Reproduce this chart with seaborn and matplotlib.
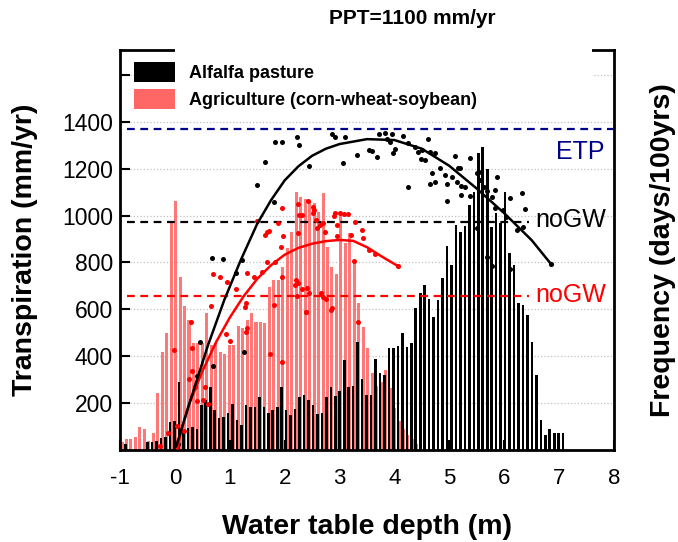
import numpy as np
import pandas as pd
import matplotlib
matplotlib.use("Agg")
import matplotlib.pyplot as plt
from matplotlib.patches import Patch, Rectangle
import seaborn as sns

# ---------------- data ----------------
bin_step = 0.0814
alfalfa_start = -0.903
agri_start = -0.964

alfalfa_freq = [26, 0, 0, 0, 0, 36, 36, 40, 50, 57, 121, 125, 291, 85, 92, 100, 90, 190, 213, 270,
                171, 135, 140, 157, 196, 128, 107, 192, 183, 185, 228, 185, 157, 171, 182, 268, 171, 149, 176, 228,
                233, 213, 192, 154, 159, 226, 270, 230, 252, 384, 268, 274, 462, 302, 235, 235, 388, 328, 320, 435,
                435, 442, 497, 441, 455, 605, 670, 704, 643, 569, 640, 735, 871, 790, 960, 930, 955, 1046, 1102, 1266,
                1292, 1198, 953, 1010, 967, 1102, 839, 789, 629, 619, 576, 462, 320, 128, 64, 88, 71, 71, 71]

agri_freq = [35, 45, 45, 57, 97, 88, 40, 74, 245, 420, 500, 974, 1060, 740, 615, 555, 458, 455, 455, 583,
             448, 455, 420, 410, 448, 450, 530, 519, 555, 583, 548, 548, 541, 697, 725, 725, 782, 860, 930, 1100,
             1080, 1070, 1060, 1053, 1017, 1095, 865, 780, 751, 1010, 882, 925, 797, 629, 526, 434, 327, 273, 290, 341,
             265, 180, 125, 90, 65, 45, 25]

alfalfa_pts_x = [0.05, 0.40, 0.46, 0.70, 1.26, 0.68, 0.87, 1.11, 1.23, 1.49, 1.81, 1.65, 1.82, 1.96, 2.22, 2.26,
                 2.45, 2.87, 2.92, 3.10, 3.07, 3.31, 3.54, 3.60, 3.68, 3.71, 3.83, 3.87, 3.95, 3.91, 4.01, 3.97,
                 4.16, 4.25, 4.37, 4.43, 4.51, 4.62, 4.65, 4.49, 4.55, 4.74, 4.83, 5.10, 5.16, 5.38, 4.24, 4.68,
                 4.65, 4.74, 4.92, 4.95, 5.04, 5.14, 5.19, 5.21, 5.28, 4.95, 5.21, 5.38, 5.50, 5.54, 5.56, 5.63,
                 5.68, 5.77, 5.83, 5.86, 5.83, 5.98, 6.10, 6.04, 6.23, 6.33, 6.38, 6.35, 5.50, 5.68, 5.77, 6.10]
alfalfa_pts_y = [25, 315, 462, 358, 419, 820, 813, 753, 810, 1130, 1059, 1230, 1312, 1312, 1334, 1301,
                 1211, 1348, 1336, 1336, 1225, 1258, 1279, 1277, 1251, 1348, 1351, 1325, 1348, 1315, 1282, 1265,
                 1339, 1311, 1294, 1272, 1279, 1326, 1272, 1240, 1237, 1265, 1201, 1254, 1201, 1244, 1123, 1180,
                 1134, 1144, 1173, 1134, 1166, 1144, 1201, 1126, 1123, 1063, 1087, 1083, 1180, 1187, 1151, 1123,
                 1106, 1080, 1109, 1163, 1031, 1024, 1073, 995, 938, 1095, 1027, 950, 945, 824, 786, 770]

agri_pts_x = [-0.28, -0.12, 0.04, 0.17, -0.02, 0.25, 0.29, 0.32, 0.31, 0.37, 0.55, 0.41, 0.52, 0.61, 0.66, 0.70,
              0.83, 0.95, 1.11, 1.30, 1.28, 0.93, 1.00, 1.31, 1.29, 1.31, 1.44, 1.59, 1.67, 1.83, 1.49, 1.64,
              1.68, 1.71, 1.87, 1.96, 1.97, 1.93, 1.95, 1.81, 1.74, 1.95, 2.19, 2.21, 2.25, 2.22, 2.31, 2.40,
              2.45, 2.39, 2.66, 2.69, 2.76, 2.87, 2.84, 2.25, 2.27, 2.31, 2.42, 2.52, 2.53, 2.51, 2.57, 2.59,
              2.69, 2.73, 2.25, 2.64, 2.90, 2.92, 3.00, 3.09, 3.15, 2.96, 2.96, 3.20, 3.29, 3.40, 3.43, 3.54,
              3.64, 3.27, 3.33, 2.38]
agri_pts_y = [18, 71, 102, 81, 426, 302, 544, 433, 338, 267, 270, 210, 213, 196, 615, 750,
              739, 718, 686, 625, 611, 494, 466, 519, 505, 756, 739, 760, 803, 803, 978, 917,
              931, 935, 967, 1031, 913, 867, 739, 619, 409, 376, 704, 725, 711, 657, 685, 689,
              668, 590, 671, 654, 645, 604, 597, 1049, 1002, 1002, 1063, 1038, 1024, 1009, 981, 945,
              967, 931, 924, 960, 998, 1009, 1009, 1005, 1006, 960, 914, 917, 974, 938, 903, 853,
              836, 807, 544, 587]

alfalfa_fit_x = [0.02, 0.3, 0.6, 0.9, 1.2, 1.5, 1.75, 2.0, 2.25, 2.5, 2.75, 3.0, 3.5, 4.0, 4.5, 5.0, 5.5,
                 6.0, 6.5, 6.85]
alfalfa_fit_y = [14, 225, 445, 640, 810, 965, 1065, 1150, 1210, 1255, 1285, 1305, 1326, 1322, 1285, 1212, 1115,
                 1010, 895, 794]
agri_fit_x = [0.05, 0.1, 0.25, 0.5, 0.75, 1.0, 1.25, 1.5, 1.75, 2.0, 2.25, 2.5, 2.75, 3.0, 3.25, 3.5, 3.75, 4.06]
agri_fit_y = [5, 70, 190, 335, 460, 565, 655, 730, 788, 833, 862, 880, 891, 896, 892, 865, 828, 785]

etp_level = 1368
nogw_alfalfa = 974
nogw_agri = 655

x_ticks = [-1, 0, 1, 2, 3, 4, 5, 6, 7, 8]
y_ticks = [200, 400, 600, 800, 1000, 1200, 1400, 1600]
y_ticklabels = ["200", "400", "600", "800", "1000", "1200", "1400", ""]

# ---------------- styling ----------------
sns.set_style("white")
plt.rcParams['font.family'] = ['Liberation Sans', 'DejaVu Sans']
plt.rcParams['text.color'] = 'black'
plt.rcParams['axes.labelcolor'] = 'black'
plt.rcParams['xtick.color'] = 'black'
plt.rcParams['ytick.color'] = 'black'

BLACK = "#000000"
PINK = "#FF7878"
RED = "#FF0000"
NAVY = "#00008B"

fig = plt.figure(figsize=(6.78, 5.42), dpi=100)
ax = fig.add_axes([0.177, 0.1697, 0.7286, 0.738])
ax2 = ax.twinx()
ax.set_zorder(2)
ax2.set_zorder(1)
ax.patch.set_visible(False)

XMIN, XMAX, YMAX = -1, 8, 1706

# --- histograms (frequency) on back axis ---
alf_df = pd.DataFrame({"depth": alfalfa_start + bin_step * np.arange(len(alfalfa_freq)),
                       "freq": alfalfa_freq})
agr_df = pd.DataFrame({"depth": agri_start + bin_step * np.arange(len(agri_freq)),
                       "freq": agri_freq})

sns.histplot(data=agr_df, x="depth", weights="freq", bins=len(agr_df),
             binrange=(agr_df.depth.iloc[0] - bin_step / 2, agr_df.depth.iloc[-1] + bin_step / 2),
             shrink=0.68, color=PINK, alpha=1, linewidth=0, ax=ax2, zorder=2)
sns.histplot(data=alf_df, x="depth", weights="freq", bins=len(alf_df),
             binrange=(alf_df.depth.iloc[0] - bin_step / 2, alf_df.depth.iloc[-1] + bin_step / 2),
             shrink=0.58, color=BLACK, alpha=1, linewidth=0, ax=ax2, zorder=3)

ax2.set_xlim(XMIN, XMAX)
ax2.set_ylim(0, YMAX)
ax2.set_yticks(y_ticks)
ax2.tick_params(axis='y', right=False, labelright=False, left=False, labelleft=False, length=0)
ax2.grid(axis='y', color='#c0c0c0', linestyle=':', linewidth=0.9)
ax2.grid(axis='x', visible=False)
ax2.set_axisbelow(True)
for s in ax2.spines.values():
    s.set_visible(False)
ax2.yaxis.set_label_position("right")
ax2.set_ylabel("Frequency (days/100yrs)", fontsize=20.5, fontweight='bold', labelpad=26)

# --- transpiration on front axis ---
ax.axhline(etp_level, xmin=0.015, xmax=1.0, color=NAVY, linestyle=(0, (3.5, 2.5)), linewidth=1.6, zorder=3)
ax.plot([-0.87, 6.45], [nogw_alfalfa] * 2, color=BLACK, linestyle=(0, (3.5, 2.5)), linewidth=1.6, zorder=3)
ax.plot([-0.87, 6.45], [nogw_agri] * 2, color=RED, linestyle=(0, (3.5, 2.5)), linewidth=1.6, zorder=3)

sns.scatterplot(x=agri_pts_x, y=agri_pts_y, color=RED, s=13, linewidth=0, ax=ax, zorder=4, legend=False)
sns.scatterplot(x=alfalfa_pts_x, y=alfalfa_pts_y, color=BLACK, s=13, linewidth=0, ax=ax, zorder=4, legend=False)

sns.lineplot(x=agri_fit_x, y=agri_fit_y, color=RED, linewidth=1.8, sort=False, estimator=None, ax=ax, zorder=5)
sns.lineplot(x=alfalfa_fit_x, y=alfalfa_fit_y, color=BLACK, linewidth=1.8, sort=False, estimator=None, ax=ax, zorder=5)
sns.scatterplot(x=[agri_fit_x[-1]], y=[agri_fit_y[-1]], color=RED, s=14, linewidth=0, ax=ax, zorder=5, legend=False)
sns.scatterplot(x=[alfalfa_fit_x[-1]], y=[alfalfa_fit_y[-1]], color=BLACK, s=14, linewidth=0, ax=ax, zorder=5, legend=False)

ax.text(6.95, 1271, "ETP", color=NAVY, fontsize=18, ha='left', va='center', zorder=6)
ax.text(6.56, nogw_alfalfa + 8, "noGW", color=BLACK, fontsize=18, ha='left', va='center', zorder=6)
ax.text(6.56, nogw_agri + 8, "noGW", color=RED, fontsize=18, ha='left', va='center', zorder=6)

ax.set_xlim(XMIN, XMAX)
ax.set_ylim(0, YMAX)
ax.set_xticks(x_ticks)
ax.set_xticklabels([str(t) for t in x_ticks])
ax.set_yticks(y_ticks)
ax.set_yticklabels(y_ticklabels)
ax.tick_params(axis='both', direction='in', length=7, width=1.5, labelsize=16.5, pad=5, colors='black')
ax.tick_params(axis='x', pad=13, labelsize=16)
ax.tick_params(axis='y', right=False, left=True)
ax.tick_params(axis='x', bottom=True, top=False)
for s in ax.spines.values():
    s.set_visible(True)
    s.set_linewidth(2)
    s.set_color(BLACK)

ax.set_xlabel("Water table depth (m)", fontsize=20.5, fontweight='bold', labelpad=18, color='black')
ax.set_ylabel("Transpiration (mm/yr)", fontsize=20.5, fontweight='bold', labelpad=17, color='black')

# white legend background area
ax.add_patch(Rectangle((0.111, 0.835), 0.845, 0.19, transform=ax.transAxes, facecolor='white',
                       edgecolor='none', clip_on=False, zorder=9))
handles = [Patch(facecolor=BLACK, edgecolor='none', label="Alfalfa pasture"),
           Patch(facecolor="#FF6666", edgecolor='none', label="Agriculture (corn-wheat-soybean)")]
leg = ax.legend(handles=handles, loc='upper left', bbox_to_anchor=(0.028, 0.97), frameon=False,
                prop={'size': 13, 'weight': 'bold'}, handlelength=2.3, handleheight=1.33,
                labelspacing=0.38, handletextpad=0.75, borderpad=0, borderaxespad=0)
for t in leg.get_texts():
    t.set_color('black')
leg.set_zorder(10)

fig.text(412 / 678, 1 - 19 / 542, "PPT=1100 mm/yr", ha='center', va='center', fontsize=15,
         fontweight='bold', color='black')

fig.savefig("out.png", dpi=100, facecolor='white')
